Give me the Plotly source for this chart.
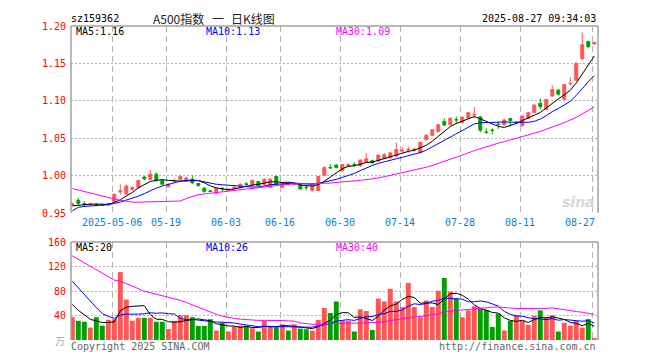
import numpy as np
import plotly.graph_objects as go

# ---------------- data ----------------
tick_idx = [7, 16, 26, 35, 45, 55, 65, 75, 87]
tick_labels = ["2025-05-06", "05-19", "06-03", "06-16", "06-30", "07-14", "07-28", "08-11", "08-27"]

open_ = [0.9610,0.9670,0.9625,0.9615,0.9612,0.9612,0.9612,0.9655,0.9780,0.9755,
         0.9815,0.9840,0.9980,0.9950,1.0018,0.9935,0.9850,0.9925,0.9950,0.9925,
         0.9950,0.9895,0.9832,0.9797,0.9765,0.9830,0.9805,0.9825,0.9838,0.9890,
         0.9863,0.9920,0.9885,0.9845,0.9990,0.9845,0.9895,0.9882,0.9885,0.9845,
         0.9800,0.9800,1.0000,1.0108,1.0140,1.0065,1.0128,1.0150,1.0128,1.0180,
         1.0200,1.0194,1.0225,1.0238,1.0260,1.0330,1.0342,1.0340,1.0304,1.0480,
         1.0538,1.0590,1.0723,1.0679,1.0748,1.0710,1.0771,1.0812,1.0785,1.0582,
         1.0608,1.0688,1.0679,1.0763,1.0700,1.0666,1.0767,1.0842,1.0966,1.0886,
         1.1063,1.1142,1.1019,1.1228,1.1274,1.1561,1.1794,1.1759]
high = [0.9640,0.9700,0.9660,0.9635,0.9632,0.9625,0.9640,0.9760,0.9885,0.9880,
        0.9860,0.9945,0.9995,1.0075,1.0045,0.9945,0.9895,0.9960,1.0005,0.9985,
        1.0005,0.9900,0.9850,0.9805,0.9840,0.9845,0.9830,0.9860,0.9895,0.9915,
        0.9945,0.9930,0.9960,0.9965,1.0000,0.9895,0.9910,0.9905,0.9890,0.9868,
        0.9875,0.9995,1.0128,1.0155,1.0155,1.0155,1.0160,1.0180,1.0212,1.0304,
        1.0215,1.0280,1.0300,1.0310,1.0446,1.0380,1.0390,1.0370,1.0450,1.0560,
        1.0620,1.0690,1.0767,1.0775,1.0790,1.0790,1.0850,1.0917,1.0795,1.0630,
        1.0630,1.0720,1.0750,1.0765,1.0730,1.0800,1.0850,1.0950,1.1032,1.1025,
        1.1208,1.1160,1.1220,1.1318,1.1510,1.1913,1.1800,1.1790]
low = [0.9590,0.9600,0.9580,0.9600,0.9590,0.9592,0.9595,0.9645,0.9740,0.9740,
       0.9800,0.9835,0.9945,0.9935,0.9915,0.9880,0.9845,0.9900,0.9945,0.9915,
       0.9885,0.9858,0.9770,0.9782,0.9755,0.9785,0.9795,0.9815,0.9830,0.9860,
       0.9855,0.9855,0.9875,0.9835,0.9880,0.9835,0.9870,0.9870,0.9815,0.9805,
       0.9790,0.9795,0.9995,1.0090,1.0095,1.0055,1.0120,1.0120,1.0125,1.0170,
       1.0165,1.0190,1.0220,1.0230,1.0255,1.0305,1.0305,1.0320,1.0300,1.0470,
       1.0530,1.0580,1.0660,1.0670,1.0700,1.0700,1.0765,1.0765,1.0578,1.0560,
       1.0550,1.0625,1.0670,1.0656,1.0690,1.0660,1.0760,1.0840,1.0886,1.0880,
       1.1055,1.1070,1.1015,1.1208,1.1270,1.1550,1.1700,1.1750]
close = [0.9620,0.9630,0.9618,0.9622,0.9605,0.9606,0.9626,0.9750,0.9795,0.9860,
         0.9840,0.9935,0.9955,1.0018,0.9940,0.9885,0.9885,0.9932,0.9992,0.9968,
         0.9905,0.9865,0.9790,0.9788,0.9832,0.9822,0.9820,0.9845,0.9885,0.9882,
         0.9938,0.9863,0.9951,0.9951,0.9885,0.9885,0.9890,0.9888,0.9820,0.9840,
         0.9863,0.9990,1.0106,1.0104,1.0110,1.0150,1.0150,1.0145,1.0208,1.0225,
         1.0170,1.0274,1.0280,1.0304,1.0348,1.0338,1.0350,1.0355,1.0446,1.0538,
         1.0612,1.0679,1.0679,1.0767,1.0745,1.0780,1.0842,1.0818,1.0608,1.0578,
         1.0604,1.0684,1.0745,1.0737,1.0715,1.0798,1.0842,1.0944,1.0922,1.1019,
         1.1151,1.1089,1.1217,1.1232,1.1503,1.1750,1.1724,1.1781]
volume = [37.3,31.4,29.8,20.2,37.3,23.4,33.0,34.0,110.9,66.0,
          31.4,36.2,36.2,36.2,29.8,29.8,18.0,31.4,40.5,40.5,
          37.3,23.0,23.0,34.0,15.4,28.2,13.9,22.0,23.4,23.4,
          19.2,13.9,31.4,23.0,22.0,25.6,15.4,25.6,18.6,17.6,
          15.4,33.0,52.2,44.2,62.9,31.4,31.4,13.9,50.1,47.4,
          16.5,67.7,62.9,83.7,62.9,53.8,93.3,53.8,37.3,64.5,
          53.8,80.5,101.3,78.9,67.2,37.3,48.5,54.9,51.2,49.5,
          21.2,43.1,15.4,31.4,40.5,31.4,24.5,39.4,48.5,36.7,
          40.5,13.9,28.2,23.4,30.9,20.2,34.1,2.6]
# 29 sessions before the window (estimated from the MA lines), used only for moving averages
hist_close = [1.022,1.028,1.030,1.025,1.020,1.024,1.029,1.023,1.018,1.021,
              0.995,0.990,0.988,0.992,0.985,0.987,0.990,0.983,
              0.895,0.905,0.918,
              0.950,0.953,0.955,0.957,0.958,0.960,0.958,0.960]
hist_volume = [205,195,210,190,200,198,202,
               170,165,160,168,162,
               110,100,105,98,112,105,
               150,160,
               140,145,135,130,120,
               80,65,58,50]

# ---------------- helpers ----------------
def mov_avg(hist, vals, n):
    s = np.array(list(hist) + list(vals), dtype=float)
    out = np.convolve(s, np.ones(n) / n, mode="valid")
    return out[-len(vals):]

N = len(close)
xi = list(range(N))
RED = "#ff5555"
GREEN = "#00a000"
MA_COL = {5: "#000000", 10: "#0000ff", 30: "#ff00ff"}
FONT = "DejaVu Sans Mono"

# page body has an 8px margin: figure is drawn 8px right/down of the window origin
OFF = 8
W, H = 660 - OFF, 360 - OFF
L, T = 71 - OFF, 21 - OFF
R = W - (598 - OFF)
B = H - (340 - OFF)
PW, PH = W - L - R, H - T - B
def px(x):          # window pixel -> paper x
    return (x - OFF - L) / PW
def py(y):          # window pixel -> paper y
    return (H - B - (y - OFF)) / PH

main_dom = [py(211), 1.0]
vol_dom = [0.0, py(240.5)]

fig = go.Figure()
fig.add_trace(go.Candlestick(
    x=xi, open=open_, high=high, low=low, close=close,
    increasing=dict(line=dict(color=RED, width=1), fillcolor=RED),
    decreasing=dict(line=dict(color=GREEN, width=1), fillcolor=GREEN),
    whiskerwidth=0, xaxis="x", yaxis="y", hoverinfo="skip", showlegend=False))
for n in (5, 10, 30):
    fig.add_trace(go.Scatter(x=xi, y=mov_avg(hist_close, close, n), mode="lines",
                             line=dict(color=MA_COL[n], width=1), xaxis="x", yaxis="y",
                             hoverinfo="skip", showlegend=False))

vcol = [RED if c >= o else GREEN for o, c in zip(open_, close)]
fig.add_trace(go.Bar(x=xi, y=volume, marker=dict(color=vcol, line=dict(width=0)),
                     width=0.82, xaxis="x2", yaxis="y2", hoverinfo="skip", showlegend=False))
for n in (5, 10, 30):
    fig.add_trace(go.Scatter(x=xi, y=mov_avg(hist_volume, volume, n), mode="lines",
                             line=dict(color=MA_COL[n], width=1), xaxis="x2", yaxis="y2",
                             hoverinfo="skip", showlegend=False))

grid_x = [i - 1 / 3 for i in tick_idx]
xcommon = dict(range=[-0.22, 87.62], tickvals=grid_x, showticklabels=False, showgrid=True,
               gridcolor="#b4b4b4", griddash="6px,4px", gridwidth=1, zeroline=False,
               showline=False, ticks="", fixedrange=True)
ycommon = dict(showgrid=True, gridcolor="#b4b4b4", griddash="2px,2px", gridwidth=1,
               zeroline=False, showline=False, ticks="", ticklabelstandoff=4,
               tickfont=dict(family=FONT, size=10, color="#ff0000"), fixedrange=True)

fig.update_layout(
    width=W, height=H, margin=dict(l=L, r=R, t=T, b=B),
    paper_bgcolor="white", plot_bgcolor="white", showlegend=False,
    xaxis=dict(domain=[0, 1], anchor="y", rangeslider=dict(visible=False), **xcommon),
    xaxis2=dict(domain=[0, 1], anchor="y2", matches="x", **xcommon),
    yaxis=dict(domain=main_dom, anchor="x", range=[0.95, 1.20],
               tickvals=[0.95, 1.00, 1.05, 1.10, 1.15, 1.20],
               ticktext=["0.95", "1.00", "1.05", "1.10", "1.15", "1.20"], **ycommon),
    yaxis2=dict(domain=vol_dom, anchor="x2", range=[0, 160],
                tickvals=[40, 80, 120, 160], ticktext=["40", "80", "120", "160"], **ycommon),
)

# frame lines (left, top, right) for both panels
FRAME = "#a0a0a0"
shapes = []
for (b0, t0) in (main_dom, vol_dom):
    shapes.append(dict(type="line", xref="paper", yref="paper", x0=0, x1=0, y0=b0, y1=t0,
                       line=dict(color=FRAME, width=1.5)))
    shapes.append(dict(type="line", xref="paper", yref="paper", x0=1, x1=1, y0=b0, y1=t0,
                       line=dict(color=FRAME, width=1.5)))
    shapes.append(dict(type="line", xref="paper", yref="paper", x0=0, x1=1, y0=t0, y1=t0,
                       line=dict(color=FRAME, width=1.5)))
fig.update_layout(shapes=shapes)

ann = []
def text(x, y, s, color="#000", size=10, anchor="left", family=FONT, xref="paper"):
    ann.append(dict(x=x if xref != "paper" else px(x), y=py(y), xref=xref, yref="paper",
                    text=s, showarrow=False, xanchor=anchor, yanchor="middle",
                    font=dict(family=family, size=size, color=color)))

CJK = "Noto Sans CJK SC"
text(69, 13, "sz159362")
text(151, 13, "A500指数", color="#222", size=12, family=CJK)
text(218, 13, "一", color="#222", size=12, family=CJK, anchor="center")
text(229, 13, "日K线图", color="#222", size=12, family=CJK)
text(598, 13, "2025-08-27 09:34:03", anchor="right")
text(74, 27, "MA5:1.16", color=MA_COL[5])
text(204, 27, "MA10:1.13", color=MA_COL[10])
text(334, 27, "MA30:1.09", color=MA_COL[30])
text(74, 246, "MA5:20", color=MA_COL[5])
text(204, 246, "MA10:26", color=MA_COL[10])
text(334, 246, "MA30:40", color=MA_COL[30])
for i, lab in zip(tick_idx[:-1], tick_labels[:-1]):
    text(i - 1 / 3, 221, lab, color="#0a80d0", anchor="center", xref="x")
text(597, 221, tick_labels[-1], color="#0a80d0", anchor="right")
text(69, 347, "Copyright 2025 SINA.COM", color="#666")
text(598, 347, "http://finance.sina.com.cn", color="#666", anchor="right")
text(67, 341, "万", color="#aaa", size=10, anchor="right", family=CJK)
text(578, 200, "<b><i>sina</i></b>", color="#d8d8d8", size=14, anchor="center",
     family="DejaVu Sans")
fig.update_layout(annotations=ann)

fig.write_html("out.html")
